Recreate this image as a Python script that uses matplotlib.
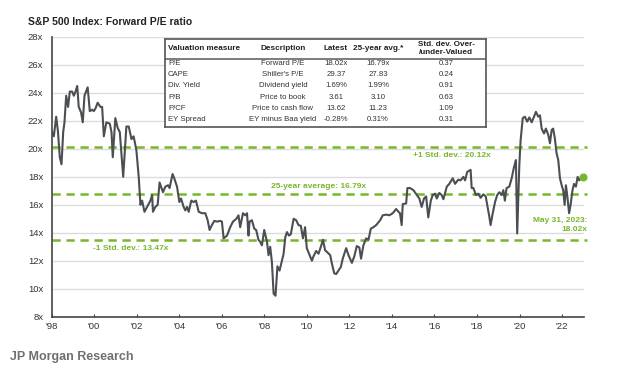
import matplotlib
matplotlib.use("Agg")
import matplotlib.pyplot as plt

plt.rcParams['font.family'] = ['Liberation Sans', 'DejaVu Sans']

# forward P/E (decimal year, multiple)
years = [1998.03, 1998.11, 1998.22, 1998.30, 1998.39, 1998.47, 1998.55, 1998.61, 1998.69, 1998.78,
         1998.86, 1998.97, 1999.05, 1999.13, 1999.21, 1999.28, 1999.39, 1999.47, 1999.55, 1999.70,
         1999.80, 1999.91, 1999.99, 2000.07, 2000.17, 2000.30, 2000.38, 2000.46, 2000.58, 2000.74,
         2000.82, 2000.88, 2001.00, 2001.11, 2001.21, 2001.37, 2001.52, 2001.63, 2001.76, 2001.86,
         2001.99, 2002.10, 2002.18, 2002.26, 2002.37, 2002.49, 2002.65, 2002.73, 2002.77, 2002.88,
         2002.99, 2003.08, 2003.24, 2003.35, 2003.48, 2003.55, 2003.69, 2003.77, 2003.90, 2004.01,
         2004.09, 2004.21, 2004.29, 2004.37, 2004.45, 2004.57, 2004.68, 2004.79, 2004.92, 2005.08,
         2005.23, 2005.34, 2005.43, 2005.54, 2005.65, 2005.78, 2005.93, 2006.01, 2006.09, 2006.25,
         2006.40, 2006.53, 2006.69, 2006.79, 2006.87, 2007.00, 2007.11, 2007.19, 2007.26, 2007.31,
         2007.42, 2007.53, 2007.62, 2007.73, 2007.81, 2007.89, 2008.00, 2008.13, 2008.20, 2008.28,
         2008.36, 2008.44, 2008.53, 2008.62, 2008.72, 2008.80, 2008.91, 2008.99, 2009.07, 2009.16,
         2009.25, 2009.38, 2009.50, 2009.61, 2009.72, 2009.82, 2009.92, 2010.00, 2010.08, 2010.24,
         2010.31, 2010.44, 2010.55, 2010.66, 2010.76, 2010.86, 2010.97, 2011.10, 2011.18, 2011.29,
         2011.38, 2011.49, 2011.60, 2011.69, 2011.85, 2011.96, 2012.12, 2012.23, 2012.35, 2012.47,
         2012.55, 2012.66, 2012.79, 2012.90, 2013.01, 2013.13, 2013.26, 2013.45, 2013.57, 2013.73,
         2013.88, 2014.04, 2014.20, 2014.31, 2014.38, 2014.46, 2014.51, 2014.67, 2014.73, 2014.85,
         2015.01, 2015.17, 2015.29, 2015.40, 2015.51, 2015.61, 2015.71, 2015.83, 2015.92, 2016.03,
         2016.11, 2016.23, 2016.34, 2016.42, 2016.58, 2016.70, 2016.86, 2016.97, 2017.12, 2017.23,
         2017.36, 2017.44, 2017.54, 2017.70, 2017.75, 2017.83, 2017.95, 2018.06, 2018.17, 2018.30,
         2018.41, 2018.48, 2018.58, 2018.64, 2018.74, 2018.85, 2018.95, 2019.05, 2019.16, 2019.24,
         2019.31, 2019.39, 2019.52, 2019.63, 2019.74, 2019.83, 2019.89, 2019.99, 2020.05, 2020.15,
         2020.25, 2020.36, 2020.46, 2020.57, 2020.68, 2020.77, 2020.88, 2020.96, 2021.04, 2021.15,
         2021.24, 2021.35, 2021.43, 2021.51, 2021.58, 2021.66, 2021.74, 2021.82, 2021.90, 2021.98,
         2022.05, 2022.12, 2022.18, 2022.24, 2022.33, 2022.40, 2022.49, 2022.56, 2022.65, 2022.73,
         2022.80, 2022.88, 2022.99]
pe = [21.2, 20.9, 22.3, 21.3, 19.4, 18.9, 21.2, 21.9, 23.8, 23.0,
      24.1, 24.1, 23.8, 24.1, 24.5, 23.0, 22.6, 21.9, 23.8, 24.4,
      22.7, 22.8, 22.7, 22.9, 23.3, 23.0, 23.0, 20.9, 21.9, 21.8,
      21.2, 19.4, 22.2, 21.5, 21.2, 18.0, 21.6, 21.6, 20.7, 20.9,
      19.9, 18.0, 16.0, 16.3, 15.5, 15.85, 16.3, 16.7, 15.5, 15.85,
      16.0, 17.6, 16.9, 17.3, 17.4, 17.2, 18.2, 17.9, 17.3, 16.2,
      16.45, 15.85, 15.6, 15.85, 15.5, 16.3, 16.2, 16.3, 15.5, 15.4,
      15.4, 14.9, 14.2, 14.55, 14.85, 14.8, 14.85, 14.8, 13.6, 13.8,
      14.4, 14.8, 15.0, 15.25, 14.4, 15.4, 15.25, 15.4, 13.8, 14.8,
      14.9, 14.3, 14.2, 13.5, 13.35, 13.1, 14.2, 13.35, 12.4, 13.0,
      11.9, 9.65, 9.5, 11.6, 11.3, 11.8, 12.5, 13.7, 14.05, 13.8,
      13.9, 15.0, 14.9, 14.55, 14.5, 13.6, 14.4, 12.9, 12.6, 12.0,
      12.3, 12.7, 12.5, 13.0, 13.5, 12.75, 12.6, 12.4, 11.8, 11.1,
      11.05, 11.3, 11.55, 12.15, 12.9, 12.4, 11.85, 12.3, 13.05, 12.95,
      12.15, 13.1, 13.6, 13.5, 14.3, 14.4, 14.55, 14.9, 15.25, 15.3,
      15.25, 15.4, 15.7, 15.5, 15.4, 14.55, 16.05, 16.1, 17.2, 17.2,
      17.05, 16.7, 16.45, 15.85, 16.45, 16.6, 15.1, 16.3, 16.7, 16.8,
      16.45, 16.85, 16.7, 16.4, 17.3, 17.5, 17.9, 17.5, 17.8, 17.75,
      18.0, 17.75, 18.35, 18.5, 17.2, 17.2, 16.7, 16.8, 16.5, 16.75,
      16.6, 16.0, 15.15, 14.55, 15.4, 16.2, 16.7, 16.9, 16.7, 17.05,
      16.3, 17.2, 17.3, 17.9, 18.7, 19.2, 13.95, 18.85, 20.6, 22.2,
      22.3, 21.95, 22.25, 21.9, 22.3, 22.65, 22.3, 22.4, 21.45, 21.1,
      21.45, 21.0, 20.4, 21.35, 21.45, 20.75, 19.7, 19.2, 17.9, 17.4,
      17.05, 16.0, 17.4, 16.7, 15.4, 16.0, 17.05, 17.5, 17.3, 18.0,
      17.75, 17.9, 18.02]

avg_25y = 16.79
plus_1sd = 20.12
minus_1sd = 13.47

tick_years = list(range(1998, 2023, 2))
tick_labels = ["'%02d" % (y % 100) for y in tick_years]
y_ticks = list(range(8, 29, 2))

# valuation table
tbl_measure = ["P/E", "CAPE", "Div. Yield", "P/B", "P/CF", "EY Spread"]
tbl_desc = ["Forward P/E", "Shiller's P/E", "Dividend yield", "Price to book",
            "Price to cash flow", "EY minus Baa yield"]
tbl_latest = ["18.02x", "29.37", "1.69%", "3.61", "13.62", "-0.28%"]
tbl_avg = ["16.79x", "27.83", "1.99%", "3.10", "11.23", "0.31%"]
tbl_sd = ["0.37", "0.24", "0.91", "0.63", "1.09", "0.31"]

green = "#78b62c"
line_col = "#4b4e52"
W, H = 618, 370


def box(l, t, r, b):
    return [l / W, 1 - b / H, (r - l) / W, (b - t) / H]


fig = plt.figure(figsize=(W / 100, H / 100), dpi=100)
ax = fig.add_axes(box(51.5, 37, 584, 316.7))

ax.set_ylim(8, 28)
ax.set_xlim(1998, 2023.03)
ax.set_yticks(y_ticks)
ax.set_yticklabels(["%dx" % v for v in y_ticks])
ax.set_xticks(tick_years)
ax.set_xticklabels(tick_labels)
ax.yaxis.grid(True, color="#dcdcdc", lw=1)
ax.set_axisbelow(True)
for s in ["top", "right"]:
    ax.spines[s].set_visible(False)
for s in ["left", "bottom"]:
    ax.spines[s].set_color("#444444")
    ax.spines[s].set_linewidth(1.2)
ax.tick_params(axis="y", length=0, labelsize=6.8, colors="#333333", pad=6)
ax.tick_params(axis="x", direction="in", length=2.5, width=0.8, color="#444444",
               labelsize=6.8, labelcolor="#333333", pad=4)

for v in [plus_1sd, avg_25y, minus_1sd]:
    ax.axhline(v, xmax=1.005, color=green, lw=1.8, ls=(0, (3.3, 2.3)), zorder=2,
               clip_on=False)

ax.plot(years, pe, color=line_col, lw=1.5, zorder=3)
ax.plot(years[-1], pe[-1], "o", color=green, ms=4.8, zorder=4, clip_on=False)

tkw = dict(color=green, fontsize=6, fontweight="bold")
ax.text(2016.8, 19.55, "+1 Std. dev.: %.2fx" % plus_1sd, ha="center", va="center", **tkw)
ax.text(2010.55, 17.3, "25-year average: %.2fx" % avg_25y, ha="center", va="center", **tkw)
ax.text(2001.7, 12.85, "-1 Std. dev.: %.2fx" % minus_1sd, ha="center", va="center", **tkw)
ax.text(2023.2, 14.55, "May 31, 2023:\n%.2fx" % pe[-1], ha="right", va="center",
        linespacing=1.35, multialignment="right", **tkw)

fig.text(28 / W, 1 - 22 / H, "S&P 500 Index: Forward P/E ratio", fontsize=7.5,
         fontweight="bold", color="#222222", va="center")
fig.text(10 / W, 1 - 357 / H, "JP Morgan Research", fontsize=9,
         fontweight="bold", color="#707070", va="center")

# table overlay, in pixel units of its own box
tx = fig.add_axes(box(165, 39, 486, 127))
tx.set_xlim(165, 486)
tx.set_ylim(127, 39)
tx.set_xticks([])
tx.set_yticks([])
tx.set_facecolor("white")
for s in tx.spines.values():
    s.set_color("#555555")
    s.set_linewidth(1.2)

hkw = dict(fontsize=5.9, fontweight="bold", color="#222222", va="center")
tx.text(168, 48.5, "Valuation measure", ha="left", **hkw)
tx.text(283, 48.5, "Description", ha="center", **hkw)
tx.text(336, 48.5, "Latest", ha="center", **hkw)
tx.text(378, 48.5, "25-year avg.*", ha="center", **hkw)
tx.text(446, 48.5, "Std. dev. Over-\n/under-Valued", ha="center", linespacing=1.2, **hkw)
tx.axhline(59, color="#666666", lw=1.2)

rkw = dict(fontsize=5.6, color="#333333", va="center")
for i in range(len(tbl_measure)):
    yy = 63.5 + i * 11.2
    tx.text(168, yy, tbl_measure[i], ha="left", **rkw)
    tx.text(283, yy, tbl_desc[i], ha="center", **rkw)
    tx.text(336, yy, tbl_latest[i], ha="center", **rkw)
    tx.text(378, yy, tbl_avg[i], ha="center", **rkw)
    tx.text(446, yy, tbl_sd[i], ha="center", **rkw)

fig.savefig("out.png", dpi=100)
